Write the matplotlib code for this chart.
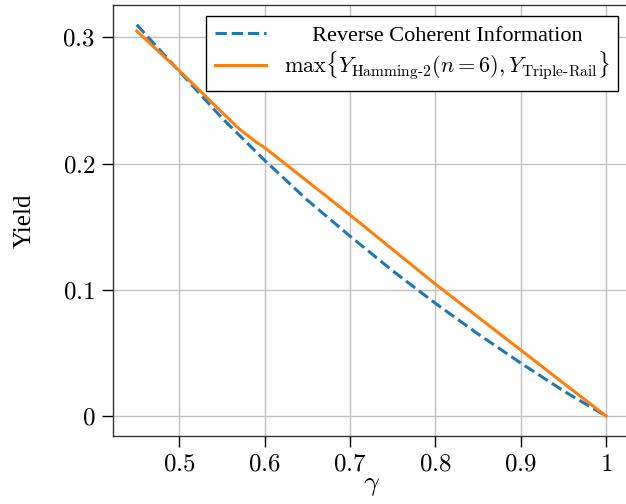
import matplotlib
matplotlib.use("Agg")
import matplotlib.pyplot as plt
from matplotlib.ticker import FuncFormatter

# values
gamma_rci = [0.45, 0.50, 0.55, 0.60, 0.65, 0.70, 0.75, 0.80, 0.85, 0.90, 0.95, 1.00]
yield_rci = [0.310, 0.273, 0.236, 0.2025, 0.171, 0.1425, 0.115, 0.0893, 0.065, 0.042, 0.020, 0.0]

gamma_code = [0.45, 0.50, 0.55, 0.57, 0.59, 0.60, 0.70, 0.80, 0.90, 1.00]
yield_code = [0.305, 0.2735, 0.2405, 0.2275, 0.2170, 0.2126, 0.1593, 0.1045, 0.0523, 0.0]

x_ticks = [0.5, 0.6, 0.7, 0.8, 0.9, 1.0]
y_ticks = [0.0, 0.1, 0.2, 0.3]

plt.rcParams['mathtext.fontset'] = 'cm'
plt.rcParams['font.family'] = 'Liberation Serif'

fig = plt.figure(figsize=(6.26, 5.04), dpi=100)
ax = fig.add_axes([0.181, 0.1357, 0.8246, 0.854])

ax.grid(True, color='#c0c0c0', linewidth=1.0)
ax.set_axisbelow(True)

# leading spaces roughly centre the first entry like the original legend
ax.plot(gamma_rci, yield_rci, linestyle='--', color='#1f77b4', linewidth=2.2,
        label='     Reverse Coherent Information')
ax.plot(gamma_code, yield_code, linestyle='-', color='#ff7f0e', linewidth=2.2,
        label=r'$\max\{Y_{\mathrm{Hamming\text{-}2}}(n=6), Y_{\mathrm{Triple\text{-}Rail}}\}$')

ax.set_xticks(x_ticks)
ax.set_yticks(y_ticks)
fmt = FuncFormatter(lambda v, p: '$%g$' % round(v, 3))
ax.xaxis.set_major_formatter(fmt)
ax.yaxis.set_major_formatter(fmt)
ax.tick_params(direction='out', length=8, width=1, pad=5, labelsize=18, colors='black')

for s in ax.spines.values():
    s.set_color('#333333')
    s.set_linewidth(1.0)

ax.set_xlabel(r'$\gamma$', fontsize=20, labelpad=-2)
ax.set_ylabel('Yield', fontsize=18, labelpad=19)

leg = ax.legend(loc='upper right', fontsize=16, fancybox=False, framealpha=1,
                edgecolor='black', handlelength=2.3, labelspacing=0.15)
leg.get_frame().set_linewidth(1.0)

fig.savefig('out.png', dpi=100)
